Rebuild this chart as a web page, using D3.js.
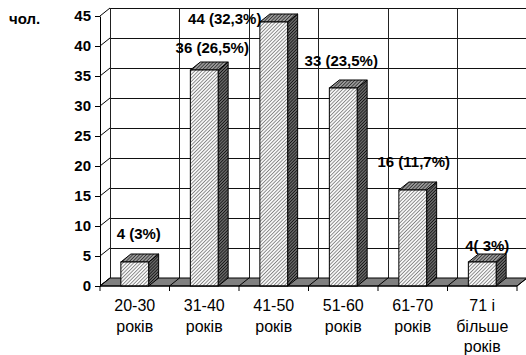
<!DOCTYPE html>
<html>
<head>
<meta charset="utf-8">
<script src="https://cdn.jsdelivr.net/npm/d3@7"></script>
<style>
  body { margin: 0; background: #fff; }
  svg { display: block; }
  text { font-family: "Liberation Sans", Arial, sans-serif; }
</style>
</head>
<body>
<svg id="chart" width="526" height="355"></svg>
<script>
// Age groups (multi-line axis labels), respondent counts and the value captions
const categories = [
  ["20-30", "років"],
  ["31-40", "років"],
  ["41-50", "років"],
  ["51-60", "років"],
  ["61-70", "років"],
  ["71 і", "більше", "років"]
];
const counts = [4, 36, 44, 33, 16, 4];
const valueLabels = ["4 (3%)", "36 (26,5%)", "44 (32,3%)", "33 (23,5%)", "16 (11,7%)", "4( 3%)"];
const yTicks = [0, 5, 10, 15, 20, 25, 30, 35, 40, 45];
const yUnit = "чол.";

// Layout
const svg = d3.select("#chart");
const FONT = "'Liberation Sans', Arial, sans-serif";
const plotLeft = 100, plotRight = 517, plotBottom = 286, plotTop = 16;
const dx = 10, dy = -8;            // depth offset of the 3D box
const labelNudgeX = [4, 8, -49, -2, 1, 5];
const labelNudgeY = [-23, -17, 2, -22, -23, -11];

const x = d3.scaleBand().domain(d3.range(categories.length)).range([plotLeft, plotRight]).padding(0);
const y = d3.scaleLinear().domain([0, 45]).range([plotBottom, plotTop]);
const bw = x.bandwidth();
const boundaries = d3.range(categories.length + 1).map(i => plotLeft + i * bw);

// Hatch patterns for the bar faces
const defs = svg.append("defs");
function hatch(id, bg, line, gap, w) {
  const p = defs.append("pattern")
    .attr("id", id).attr("patternUnits", "userSpaceOnUse")
    .attr("width", gap).attr("height", gap)
    .attr("patternTransform", "rotate(45)");
  p.append("rect").attr("width", gap).attr("height", gap).attr("fill", bg);
  p.append("line").attr("x1", 0).attr("y1", 0).attr("x2", 0).attr("y2", gap)
    .attr("stroke", line).attr("stroke-width", w);
}
hatch("hFront", "#f6f6f6", "#333", 2.5, 1);
hatch("hTop", "#999", "#111", 2.4, 1.2);
hatch("hSide", "#666", "#000", 2.2, 1.2);

const g = svg.append("g");

// Back wall: horizontal grid lines
g.selectAll("line.hgrid").data(yTicks).join("line")
  .attr("x1", plotLeft + dx).attr("x2", plotRight + dx + 10)
  .attr("y1", d => y(d) + dy).attr("y2", d => y(d) + dy)
  .attr("stroke", "#111").attr("stroke-width", 1).attr("shape-rendering", "crispEdges");

// Back wall: vertical lines at category boundaries
g.selectAll("line.vgrid").data(boundaries).join("line")
  .attr("x1", d => d + dx).attr("x2", d => d + dx)
  .attr("y1", y(45) + dy).attr("y2", y(0) + dy)
  .attr("stroke", "#222").attr("stroke-width", 1).attr("shape-rendering", "crispEdges");

// Side wall: slanted lines from axis ticks to the back wall
g.selectAll("line.side").data(yTicks).join("line")
  .attr("x1", plotLeft).attr("y1", d => y(d))
  .attr("x2", plotLeft + dx).attr("y2", d => y(d) + dy)
  .attr("stroke", "#000").attr("stroke-width", 1);

// Floor
g.append("polygon")
  .attr("points", [[plotLeft, y(0)], [plotRight, y(0)], [plotRight + dx, y(0) + dy], [plotLeft + dx, y(0) + dy]].join(" "))
  .attr("fill", "#808080").attr("stroke", "#000").attr("stroke-width", 1);
g.selectAll("line.floor").data(boundaries).join("line")
  .attr("x1", d => d).attr("y1", y(0))
  .attr("x2", d => d + dx).attr("y2", y(0) + dy)
  .attr("stroke", "#000").attr("stroke-width", 1);

// Bars
const barW = bw * 0.4;
const bars = g.selectAll("g.bar").data(counts).join("g").attr("class", "bar");
bars.each(function(v, i) {
  const s = d3.select(this);
  const x0 = x(i) + (bw - barW) / 2, x1 = x0 + barW, yt = y(v), yb = y(0);
  s.append("polygon")
    .attr("points", [[x1, yt], [x1 + dx, yt + dy], [x1 + dx, yb + dy], [x1, yb]].join(" "))
    .attr("fill", "url(#hSide)").attr("stroke", "#000").attr("stroke-width", 1);
  s.append("polygon")
    .attr("points", [[x0, yt], [x0 + dx, yt + dy], [x1 + dx, yt + dy], [x1, yt]].join(" "))
    .attr("fill", "url(#hTop)").attr("stroke", "#000").attr("stroke-width", 1);
  s.append("rect")
    .attr("x", x0).attr("y", yt).attr("width", barW).attr("height", yb - yt)
    .attr("fill", "url(#hFront)").attr("stroke", "#000").attr("stroke-width", 1);
});

// Y axis
const yAxis = svg.append("g")
  .attr("transform", `translate(${plotLeft},0)`)
  .call(d3.axisLeft(y).tickValues(yTicks).tickSize(5).tickSizeOuter(0).tickPadding(4));
yAxis.select(".domain").attr("stroke", "#000");
yAxis.selectAll(".tick line").attr("stroke", "#000");
yAxis.selectAll(".tick text")
  .attr("font-family", FONT)
  .attr("font-size", 15).attr("font-weight", "bold").attr("fill", "#000");

svg.append("text").attr("x", 9).attr("y", 24)
  .attr("font-family", FONT)
  .attr("font-size", 15).attr("font-weight", "bold").text(yUnit);

// X axis: ticks at category boundaries, labels centred in bands
svg.append("line").attr("x1", plotLeft).attr("x2", plotRight).attr("y1", y(0)).attr("y2", y(0))
  .attr("stroke", "#000");
svg.selectAll("line.xtick").data(boundaries).join("line")
  .attr("x1", d => d).attr("x2", d => d).attr("y1", y(0)).attr("y2", y(0) + 5)
  .attr("stroke", "#000");
const xl = svg.selectAll("text.xlab").data(categories).join("text")
  .attr("class", "xlab")
  .attr("font-family", FONT)
  .attr("text-anchor", "middle").attr("font-size", 16).attr("fill", "#000");
xl.each(function(lines, i) {
  d3.select(this).selectAll("tspan").data(lines).join("tspan")
    .attr("x", x(i) + bw / 2)
    .attr("y", (d, k) => 311 + k * 20.5)
    .text(d => d);
});

// Value captions
svg.selectAll("text.val").data(counts).join("text")
  .attr("class", "val")
  .attr("font-family", FONT)
  .attr("x", (v, i) => x(i) + bw / 2 + labelNudgeX[i])
  .attr("y", (v, i) => y(v) + labelNudgeY[i])
  .attr("text-anchor", "middle")
  .attr("font-size", 15).attr("font-weight", "bold").attr("fill", "#000")
  .text((v, i) => valueLabels[i]);
</script>
</body>
</html>
